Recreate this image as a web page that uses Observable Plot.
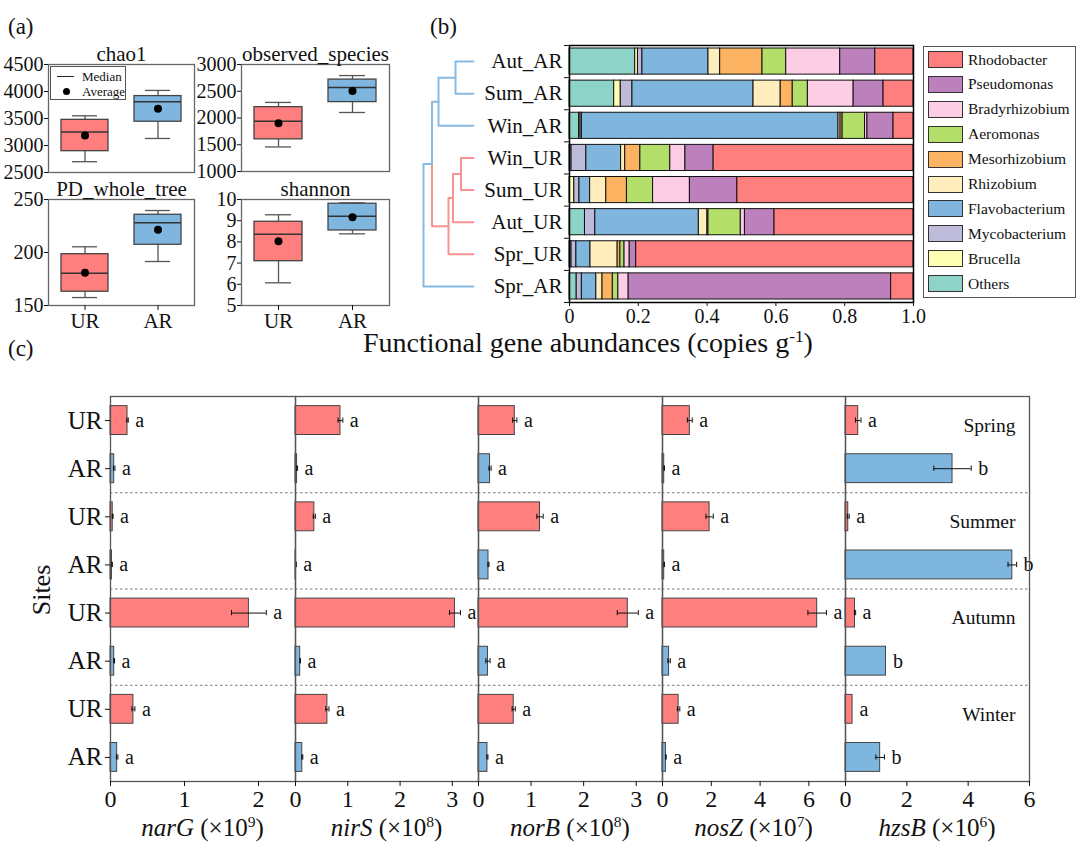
<!DOCTYPE html>
<html><head><meta charset="utf-8">
<script src="https://cdn.jsdelivr.net/npm/d3@7"></script>
<script src="https://cdn.jsdelivr.net/npm/@observablehq/plot@0.6"></script>
<style>
body{margin:0;background:#fff;}
#root{position:relative;width:1080px;height:852px;font-family:"Liberation Serif","Times New Roman",serif;color:#111;overflow:hidden;background:#fff;}
sup{font-size:0.62em;vertical-align:0.55em;line-height:0;}
</style></head><body><div id="root"></div>
<script>
const FONT = '"Liberation Serif","Times New Roman",serif';
const UR_COLOR = "#ff7f7f", AR_COLOR = "#7fb6df";

// ---------- (a) alpha diversity: [min, q1, median, q3, max, mean] for UR, AR ----------
const groups = ["UR", "AR"];
const chao1 = [[2700, 2895, 3250, 3475, 3550, 3185], [3130, 3440, 3810, 3915, 4020, 3680]];
const observedSpecies = [[1459, 1601, 1940, 2203, 2291, 1902], [2103, 2297, 2568, 2718, 2793, 2504]];
const pdWholeTree = [[157.5, 163, 180.5, 198.4, 205.4, 181], [191.5, 207.3, 228, 235.6, 239.6, 221.4]];
const shannon = [[6.07, 7.09, 8.36, 8.95, 9.28, 8.03], [8.38, 8.54, 9.21, 9.80, 9.84, 9.16]];
const chao1Ticks = [2500, 3000, 3500, 4000, 4500];
const observedTicks = [1000, 1500, 2000, 2500, 3000];
const pdTicks = [150, 200, 250];
const shannonTicks = [5, 6, 7, 8, 9, 10];

// ---------- (b) relative abundance (stack order left -> right) ----------
const samples = ["Aut_AR", "Sum_AR", "Win_AR", "Win_UR", "Sum_UR", "Aut_UR", "Spr_UR", "Spr_AR"];
const genera = ["Others", "Brucella", "Mycobacterium", "Flavobacterium", "Rhizobium", "Mesorhizobium", "Aeromonas", "Bradyrhizobium", "Pseudomonas", "Rhodobacter"];
const generaColors = ["#8dd3c7", "#ffffb3", "#bebada", "#80b6de", "#ffedbc", "#fdb462", "#b3de69", "#fccde5", "#bc80bd", "#ff7f7f"];
const autAR = [0.191, 0.008, 0.013, 0.192, 0.034, 0.123, 0.069, 0.157, 0.102, 0.111];
const sumAR = [0.130, 0.019, 0.034, 0.352, 0.079, 0.035, 0.044, 0.133, 0.087, 0.087];
const winAR = [0.028, 0.004, 0.004, 0.746, 0.006, 0.006, 0.065, 0.007, 0.076, 0.058];
const winUR = [0.006, 0, 0.043, 0.101, 0.012, 0.044, 0.087, 0.044, 0.082, 0.581];
const sumUR = [0, 0.014, 0.015, 0.031, 0.047, 0.060, 0.076, 0.107, 0.138, 0.512];
const autUR = [0.045, 0, 0.030, 0.301, 0.025, 0.003, 0.094, 0.012, 0.086, 0.404];
const sprUR = [0.006, 0, 0.014, 0.041, 0.079, 0.008, 0.012, 0.015, 0.019, 0.806];
const sprAR = [0.021, 0, 0.015, 0.042, 0.018, 0.030, 0.016, 0.030, 0.763, 0.065];
const abundance = [autAR, sumAR, winAR, winUR, sumUR, autUR, sprUR, sprAR];
const xTicksB = [0, 0.2, 0.4, 0.6, 0.8, 1.0];
// dendrogram merges: [childA, childB, height, cluster]
const dendroMerges = [
  ["Aut_AR", "Sum_AR", 0.36, "AR"],
  ["n0", "Win_AR", 0.70, "AR"],
  ["Win_UR", "Sum_UR", 0.25, "UR"],
  ["n2", "Aut_UR", 0.41, "UR"],
  ["n3", "Spr_UR", 0.50, "UR"],
  ["n1", "n4", 0.83, "AR"],
  ["n5", "Spr_AR", 1.00, "AR"]
];

// ---------- (c) functional genes ----------
const seasons = ["Spring", "Summer", "Autumn", "Winter"];
const sites = ["UR", "AR"];
const genes = ["narG", "nirS", "norB", "nosZ", "hzsB"];
const geneExponents = [9, 8, 8, 7, 6];
const geneDomains = [[0, 2.5], [0, 3.5], [0, 3.5], [0, 7.5], [0, 6]];
const geneTicks = [[0, 1, 2], [0, 1, 2, 3], [0, 1, 2, 3], [0, 2, 4, 6], [0, 2, 4, 6]];
// rows: Spr UR, Spr AR, Sum UR, Sum AR, Aut UR, Aut AR, Win UR, Win AR
const narG = [0.23, 0.05, 0.03, 0.02, 1.87, 0.05, 0.31, 0.09];
const narGErr = [0.01, 0.01, 0.005, 0.005, 0.235, 0.005, 0.02, 0.01];
const nirS = [0.86, 0.03, 0.36, 0.01, 3.05, 0.09, 0.61, 0.13];
const nirSErr = [0.045, 0.01, 0.02, 0.005, 0.105, 0.005, 0.03, 0.01];
const norB = [0.69, 0.22, 1.17, 0.19, 2.84, 0.18, 0.67, 0.17];
const norBErr = [0.04, 0.02, 0.06, 0.01, 0.2, 0.04, 0.03, 0.01];
const nosZ = [1.12, 0.07, 1.93, 0.07, 6.34, 0.27, 0.66, 0.14];
const nosZErr = [0.1, 0.01, 0.15, 0.01, 0.38, 0.05, 0.05, 0.01];
const hzsB = [0.415, 3.49, 0.09, 5.44, 0.31, 1.32, 0.23, 1.13];
const hzsBErr = [0.09, 0.61, 0.03, 0.14, 0.02, 0, 0, 0.14];
const lettersA = ["a", "a", "a", "a", "a", "a", "a", "a"];
const lettersHzsB = ["a", "b", "a", "b", "a", "b", "a", "b"];
const geneValues = [narG, nirS, norB, nosZ, hzsB];
const geneErrors = [narGErr, nirSErr, norBErr, nosZErr, hzsBErr];
const geneLetters = [lettersA, lettersA, lettersA, lettersA, lettersHzsB];

// ---------- helpers ----------
const root = document.getElementById("root");
function place(el, left, top) {
  el.style.position = "absolute"; el.style.left = left + "px"; el.style.top = top + "px";
  root.appendChild(el); return el;
}
function html(str, left, top, css = "") {
  const d = document.createElement("div");
  d.innerHTML = str;
  d.style.cssText = `position:absolute;left:${left}px;top:${top}px;line-height:1;white-space:nowrap;${css}`;
  root.appendChild(d); return d;
}
const baseStyle = (fs) => ({fontFamily: FONT, fontSize: fs + "px", background: "transparent", overflow: "visible", color: "#111"});
const plain = d => String(d);

// ---------- (a) ----------
function boxPanel({title, stats, ticks, left, frameTop, frameW, frameH, showX}) {
  const rows = groups.map((g, i) => ({group: g, min: stats[i][0], q1: stats[i][1], median: stats[i][2], q3: stats[i][3], max: stats[i][4], mean: stats[i][5]}));
  const mt = 30, mb = showX ? 36 : 6, ml = 48, mr = 6;
  const wc = {stroke: "#555", strokeWidth: 1.3};
  const marks = [
    Plot.ruleX(rows, {x: "group", y1: "min", y2: "q1", ...wc}),
    Plot.ruleX(rows, {x: "group", y1: "q3", y2: "max", ...wc}),
    Plot.tickY(rows, {x: "group", y: "min", insetLeft: 24, insetRight: 24, ...wc}),
    Plot.tickY(rows, {x: "group", y: "max", insetLeft: 24, insetRight: 24, ...wc}),
    Plot.barY(rows, {x: "group", y1: "q1", y2: "q3", fill: "group", stroke: "#444", strokeWidth: 1.3, insetLeft: 13, insetRight: 13}),
    Plot.tickY(rows, {x: "group", y: "median", stroke: "#333", strokeWidth: 1.5, insetLeft: 13, insetRight: 13}),
    Plot.dot(rows, {x: "group", y: "mean", r: 4, fill: "#000"}),
    Plot.frame({stroke: "#666", strokeWidth: 1.3}),
    Plot.axisY({ticks, tickFormat: plain, tickSize: 4, tickPadding: 1, fontSize: 20, label: null}),
    Plot.text([title], {text: d => d, frameAnchor: "top", lineAnchor: "bottom", dy: -4, fontSize: 21})
  ];
  if (showX) marks.push(Plot.axisX({tickSize: 5, tickPadding: 3, fontSize: 21, label: null}));
  const p = Plot.plot({
    width: ml + frameW + mr, height: mt + frameH + mb,
    marginLeft: ml, marginRight: mr, marginTop: mt, marginBottom: mb,
    style: baseStyle(20),
    x: {type: "band", domain: groups, padding: 0, axis: showX ? undefined : null},
    y: {domain: [ticks[0], ticks[ticks.length - 1]]},
    color: {domain: groups, range: [UR_COLOR, AR_COLOR]},
    marks
  });
  place(p, left - ml, frameTop - mt);
}
boxPanel({title: "chao1", stats: chao1, ticks: chao1Ticks, left: 48, frameTop: 64, frameW: 146, frameH: 108, showX: false});
boxPanel({title: "observed_species", stats: observedSpecies, ticks: observedTicks, left: 241, frameTop: 64, frameW: 148, frameH: 107, showX: false});
boxPanel({title: "PD_whole_tree", stats: pdWholeTree, ticks: pdTicks, left: 48, frameTop: 199, frameW: 146, frameH: 106, showX: true});
boxPanel({title: "shannon", stats: shannon, ticks: shannonTicks, left: 241, frameTop: 199, frameW: 148, frameH: 106, showX: true});

// legend inside chao1
const lg = html("", 50, 66, "width:76px;height:34px;border:1px solid #555;background:#fff;box-sizing:border-box;");
lg.innerHTML = `
 <div style="position:absolute;left:6px;top:9px;width:17px;border-top:1.3px solid #222"></div>
 <div style="position:absolute;left:31px;top:3px;font-size:13px;line-height:1">Median</div>
 <div style="position:absolute;left:12px;top:21px;width:7px;height:7px;border-radius:50%;background:#000"></div>
 <div style="position:absolute;left:31px;top:18px;font-size:13px;line-height:1">Average</div>`;

// ---------- (b) ----------
const stackRows = [];
samples.forEach((s, i) => {
  let acc = 0;
  abundance[i].forEach((v, j) => {
    if (v > 0) stackRows.push({sample: s, i, genus: genera[j], x1: acc, x2: acc + v});
    acc += v;
  });
});
const bML = 100, bMR = 6, bMT = 5, bMB = 36, bW = 344, bH = 257;
const plotB = Plot.plot({
  width: bML + bW + bMR, height: bMT + bH + bMB,
  marginLeft: bML, marginRight: bMR, marginTop: bMT, marginBottom: bMB,
  style: baseStyle(20),
  x: {domain: [0, 1]},
  y: {domain: [0, samples.length], reverse: true},
  color: {domain: genera, range: generaColors},
  marks: [
    Plot.rectX(stackRows, {x1: "x1", x2: "x2", y1: "i", y2: d => d.i + 1, fill: "genus", stroke: "#111", strokeWidth: 1, insetTop: 3, insetBottom: 3}),
    Plot.frame({stroke: "#000", strokeWidth: 1.5}),
    Plot.axisX({ticks: xTicksB, tickFormat: d => d === 0 ? "0" : d.toFixed(1), tickSize: 4, tickPadding: 2, fontSize: 20, label: null}),
    Plot.axisY({ticks: d3.range(samples.length + 1), tickFormat: () => "", tickSize: 5, label: null}),
    Plot.text(samples, {x: 0, y: (d, i) => i + 0.5, text: d => d, dx: -7, textAnchor: "end", fontSize: 21})
  ]
});
place(plotB, 569 - bML, 45 - bMT);

// dendrogram
const nodes = {};
samples.forEach((s, i) => nodes[s] = {y: i + 0.5, h: 0, c: s.slice(-2)});
const dSegs = [];
dendroMerges.forEach(([a, b, h, c], k) => {
  const na = nodes[a], nb = nodes[b];
  const ny = (na.y + nb.y) / 2;
  [[a, na], [b, nb]].forEach(([name, n]) => {
    const id = "m" + k + name;
    dSegs.push({id, h: n.h, y: n.y, c: n.c}, {id, h, y: n.y, c: n.c}, {id, h, y: ny, c: n.c});
  });
  nodes["n" + k] = {y: ny, h, c};
});
const dML = 13, dMR = 7;
const plotD = Plot.plot({
  width: dML + 50 + dMR, height: bMT + bH + bMB,
  marginLeft: dML, marginRight: dMR, marginTop: bMT, marginBottom: bMB,
  style: baseStyle(12),
  x: {domain: [1, 0], axis: null},
  y: {domain: [0, samples.length], reverse: true, axis: null},
  color: {domain: ["UR", "AR"], range: ["#f79393", "#86bbe5"]},
  marks: [Plot.line(dSegs, {x: "h", y: "y", z: "id", stroke: "c", strokeWidth: 2, curve: "linear"})]
});
place(plotD, 423 - dML, 45 - bMT);

// legend (b)
const lgB = html("", 923, 46, "width:153px;height:252px;border:1px solid #555;box-sizing:border-box;background:#fff;");
genera.slice().reverse().forEach((g, k) => {
  const col = generaColors[genera.indexOf(g)];
  const yc = 12.5 + k * 24.9;
  lgB.innerHTML += `<div style="position:absolute;left:4px;top:${yc - 8.5}px;width:35px;height:17px;background:${col};border:1.5px solid #333;box-sizing:border-box"></div>
  <div style="position:absolute;left:44px;top:${yc - 8}px;font-size:15.5px;line-height:1">${g}</div>`;
});

// ---------- (c) ----------
const cEdges = [110, 295, 478, 662, 845, 1029];
const cTop = 396, cH = 385, cMT = 5, cMB = 40;
genes.forEach((gene, k) => {
  const rows = [];
  seasons.forEach((s, si) => sites.forEach((site, j) => {
    const i = si * sites.length + j;
    rows.push({i, season: s, site, v: geneValues[k][i], e: geneErrors[k][i], letter: geneLetters[k][i]});
  }));
  const rowsE = rows.filter(d => d.e > 0);
  const left = cEdges[k], fw = cEdges[k + 1] - cEdges[k];
  const ml = k === 0 ? left : 0;
  const marks = [
    Plot.ruleY(seasons.slice(1), {y: (d, i) => (i + 1) * sites.length, stroke: "#777", strokeWidth: 1, strokeDasharray: "2.5,2.5"}),
    Plot.rectX(rows, {x1: 0, x2: "v", y1: d => d.i + 0.2, y2: d => d.i + 0.8, fill: "site", stroke: "#444", strokeWidth: 1}),
    Plot.ruleY(rowsE, {y: d => d.i + 0.5, x1: d => d.v - d.e, x2: d => d.v + d.e, stroke: "#111", strokeWidth: 1}),
    Plot.ruleX(rowsE, {x: d => d.v - d.e, y1: d => d.i + 0.445, y2: d => d.i + 0.555, stroke: "#111", strokeWidth: 1}),
    Plot.ruleX(rowsE, {x: d => d.v + d.e, y1: d => d.i + 0.445, y2: d => d.i + 0.555, stroke: "#111", strokeWidth: 1}),
    Plot.text(rows, {x: d => d.v + d.e, y: d => d.i + 0.5, text: "letter", dx: 7, textAnchor: "start", fontSize: 20}),
    Plot.frame({stroke: "#555", strokeWidth: 1.3}),
    Plot.axisX({ticks: geneTicks[k], tickFormat: plain, tickSize: 5, tickPadding: 3, fontSize: 24, label: null})
  ];
  if (k === 0) marks.push(Plot.axisY({ticks: rows.map(d => d.i + 0.5), tickFormat: d => sites[Math.floor(d) % sites.length], tickSize: 5, tickPadding: 3, fontSize: 25, label: null}));
  if (k === genes.length - 1) marks.push(Plot.text(seasons, {frameAnchor: "right", y: (d, i) => i * sites.length + 0.5, text: d => d, dx: -14, dy: 5, textAnchor: "end", fontSize: 19.5}));
  const p = Plot.plot({
    width: ml + fw, height: cMT + cH + cMB,
    marginLeft: ml, marginRight: 0, marginTop: cMT, marginBottom: cMB,
    style: baseStyle(20),
    x: {domain: geneDomains[k]},
    y: {domain: [0, rows.length], reverse: true, axis: k === 0 ? undefined : null},
    color: {domain: sites, range: [UR_COLOR, AR_COLOR]},
    marks
  });
  place(p, left - ml, cTop - cMT);
  html(`<i>${gene}</i> (×10<sup>${geneExponents[k]}</sup>)`, left, 815, `width:${fw}px;text-align:center;font-size:25px;`);
});

// ---------- text labels ----------
html("(a)", 8, 15, "font-size:23px;");
html("(b)", 430, 15, "font-size:23px;");
html("(c)", 8, 337, "font-size:23px;");
html("Functional gene abundances (copies g<sup>-1</sup>)", 238, 329, "width:700px;text-align:center;font-size:28px;");
html("Sites", 42, 590, "font-size:26px;transform:translate(-50%,-50%) rotate(-90deg);");
</script></body></html>
